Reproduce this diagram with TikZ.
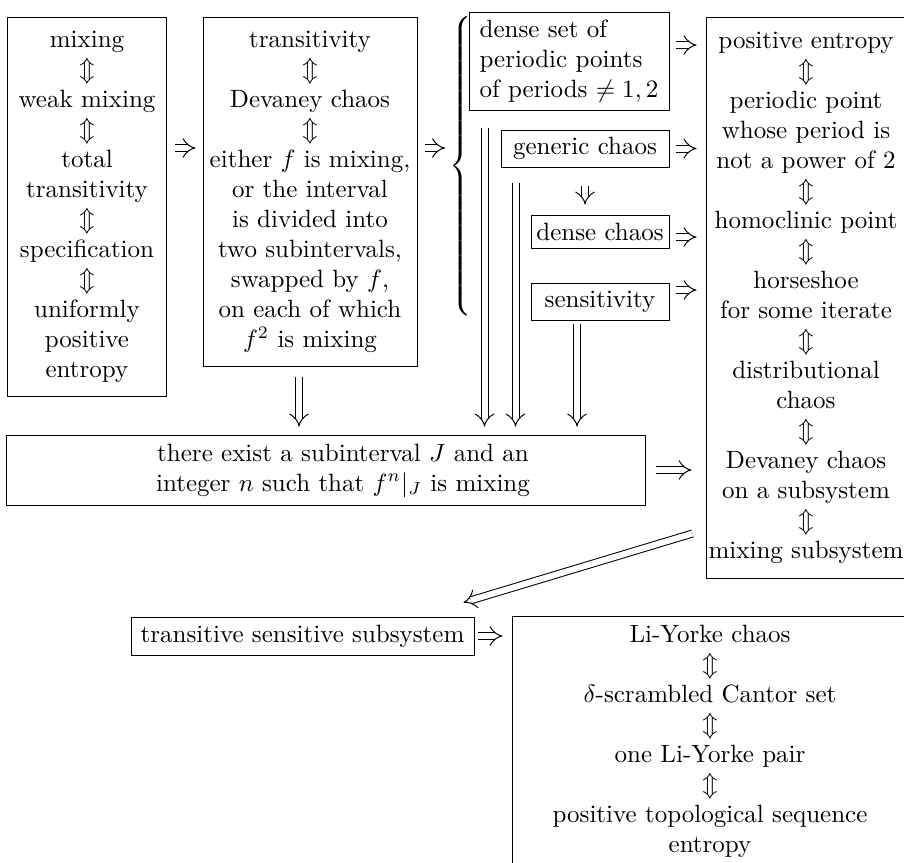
\documentclass[tikz,border=0pt]{standalone}
\usetikzlibrary{arrows.meta}

\begin{document}
\begin{tikzpicture}[x=0.4pt, y=-0.4pt,
    box/.style={draw, align=center, inner sep=0pt},
    imp/.style={double, double distance=2.4pt, -{Implies}},
    longimp/.style={imp, -{Implies[scale=1.25]}}]
    \useasboundingbox (0,0) rectangle (904,862);
    \clip (0,0) rectangle (904,862);

    \node[box, minimum width=63.2pt, minimum height=151.6pt] (mix) at (87,206.5)
        {mixing\\ $\Updownarrow$\\ weak mixing\\ $\Updownarrow$\\ total\\ transitivity\\
         $\Updownarrow$\\ specification\\ $\Updownarrow$\\ uniformly\\ positive\\ entropy};
    \node[box, minimum width=85.6pt, minimum height=139.6pt] (trans) at (310,191.5)
        {transitivity\\ $\Updownarrow$\\ Devaney chaos\\ $\Updownarrow$\\ either $f$ is mixing,\\
         or the interval\\ is divided into\\ two subintervals,\\ swapped by $f$,\\
         on each of which\\ $f^2$ is mixing};
    \node[inner sep=0pt, anchor=west] (brace) at (449,168)
        {$\nulldelimiterspace=0pt\left\{\vrule height 59pt depth 59pt width 0pt\right.$};
    \node[box, align=left, minimum width=80pt, minimum height=39.2pt] (dense) at (569,61)
        {dense set of\\ periodic points\\ of periods $\neq 1,2$};
    \node[box, minimum width=67.2pt, minimum height=14.8pt] (generic) at (585,148.5) {generic chaos};
    \node[box, minimum width=55.2pt, minimum height=13.2pt] (dchaos) at (600,231.5) {dense chaos};
    \node[box, minimum width=55.2pt, minimum height=14.8pt] (sens) at (600,301.5) {sensitivity};
    \node[box, minimum width=80pt, minimum height=224.4pt] (entropy) at (806,297.5)
        {positive entropy\\ $\Updownarrow$\\ periodic point\\ whose period is\\ not a power of 2\\
         $\Updownarrow$\\ homoclinic point\\ $\Updownarrow$\\ horseshoe\\ for some iterate\\
         $\Updownarrow$\\ distributional\\ chaos\\ $\Updownarrow$\\ Devaney chaos\\
         on a subsystem\\ $\Updownarrow$\\ mixing subsystem};
    \node[box, minimum width=255.2pt, minimum height=28pt] (exist) at (326,470)
        {\hspace*{13.6pt}\begin{tabular}{@{}c@{}}there exist a subinterval $J$ and an\\
         integer $n$ such that $f^n|_J$ is mixing\end{tabular}};
    \node[box, minimum width=137.2pt, minimum height=15.2pt] (tss) at (302.5,636)
        {transitive sensitive subsystem};
    \node[box, minimum width=158.4pt, minimum height=100pt] (ly) at (710,741)
        {Li-Yorke chaos\\ $\Updownarrow$\\ $\delta$-scrambled Cantor set\\ $\Updownarrow$\\
         one Li-Yorke pair\\ $\Updownarrow$\\ positive topological sequence\\ entropy};

    % short implications
    \draw[imp, shorten <=3.2pt, shorten >=2.8pt] ([yshift=23.4pt]mix.east) -- ([yshift=23.4pt]mix.east -| trans.west);
    \draw[imp, shorten <=2.8pt, shorten >=1.6pt] ([yshift=17.4pt]trans.east) -- ([yshift=17.4pt]trans.east -| brace.west);
    \draw[imp, shorten <=2.4pt, shorten >=3.6pt] ([yshift=6.4pt]dense.east) -- ([yshift=6.4pt]dense.east -| entropy.west);
    \draw[imp, shorten <=2.4pt, shorten >=3.6pt] (generic.east) -- (generic.east -| entropy.west);
    \draw[imp, shorten <=2.4pt, shorten >=3.6pt] ([yshift=-2.2pt]dchaos.east) -- ([yshift=-2.2pt]dchaos.east -| entropy.west);
    \draw[imp, shorten <=2.4pt, shorten >=3.6pt] ([yshift=4.6pt]sens.east) -- ([yshift=4.6pt]sens.east -| entropy.west);
    \draw[imp, shorten <=7.2pt, shorten >=4pt] (generic.south) -- (generic.south |- dchaos.north);
    \draw[imp, shorten <=4pt, shorten >=5.6pt] (exist.east) -- (exist.east -| entropy.west);
    \draw[imp, shorten <=1.2pt, shorten >=3.6pt] (tss.east) -- (tss.east -| ly.west);

    % long arrows down to the subinterval box
    \draw[longimp, shorten <=4pt, shorten >=3.2pt] ([xshift=-4.4pt]trans.south) -- ([xshift=-4.4pt]trans.south |- exist.north);
    \draw[longimp, shorten <=6.8pt, shorten >=3.2pt] ([xshift=6.4pt]dense.south west) -- ([xshift=6.4pt]dense.south west |- exist.north);
    \draw[longimp, shorten <=6pt, shorten >=3.2pt] ([xshift=6pt]generic.south west) -- ([xshift=6pt]generic.south west |- exist.north);
    \draw[longimp, shorten <=1.2pt, shorten >=3.2pt] ([xshift=-9.2pt]sens.south) -- ([xshift=-9.2pt]sens.south |- exist.north);

    \draw[imp] ([xshift=-5.2pt,yshift=18pt]entropy.south west) -- ([xshift=-4.4pt,yshift=5.6pt]tss.north east);
\end{tikzpicture}
\end{document}
